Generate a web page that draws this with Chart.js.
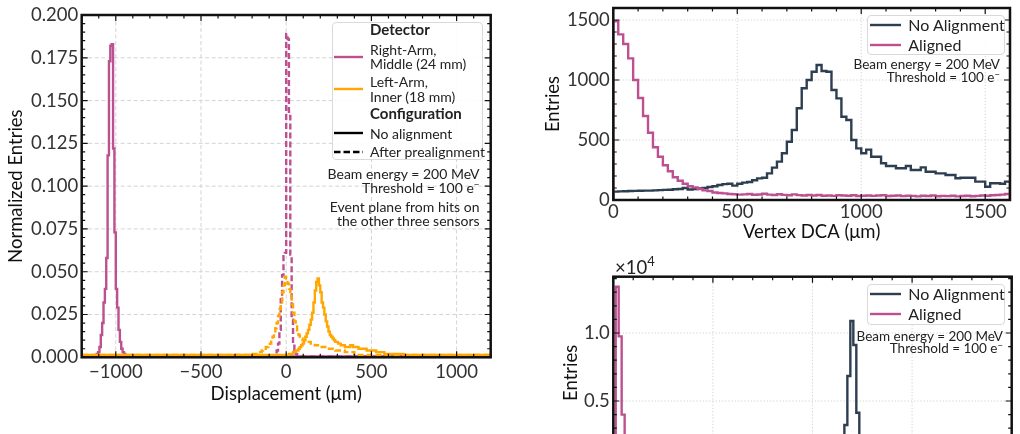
<!DOCTYPE html>
<html>
<head>
<meta charset="utf-8">
<script src="https://cdn.jsdelivr.net/npm/chart.js@4.4.1/dist/chart.umd.min.js"></script>
<style>
  body { margin: 0; width: 1020px; height: 434px; overflow: hidden; position: relative; background: #fff; font-family: Lato, sans-serif; }
  canvas { position: absolute; }
  #overlay { position: absolute; left: 0; top: 0; width: 1020px; height: 434px; z-index: 2; }
  .lbl { position: absolute; white-space: nowrap; color: #222; font-family: Lato, sans-serif; }
  .box { position: absolute; box-sizing: border-box; border: 1px solid #d9d9d9; border-radius: 4px; background: rgba(255,255,255,0.88); }
  .sup { font-size: 0.7em; position: relative; top: -0.45em; }
</style>
</head>
<body>
<canvas id="dispChart" width="510" height="434" style="left:0;top:0"></canvas>
<canvas id="dcaChart" width="500" height="250" style="left:520px;top:0"></canvas>
<canvas id="wideChart" width="500" height="260" style="left:520px;top:250px"></canvas>
<div id="overlay"></div>
<script>
// Colours
const magenta = '#bc5090';
const orange = '#ffa600';
const navy = '#2c3e50';

// ---- Left panel: displacement, normalized entries, 8 um bins ----
const dispBinWidth = 8;
const dispRange = [-1200, 1200];
const dispXTicks = [-1000, -500, 0, 500, 1000];
const dispYTicks = [0, 0.025, 0.05, 0.075, 0.1, 0.125, 0.15, 0.175, 0.2];

// Right-Arm, Middle (24 mm), no alignment
const rightArmRawStart = -1120;
const rightArmRaw = [0.001, 0.002, 0.003, 0.006, 0.013, 0.020, 0.032, 0.040, 0.058, 0.118,
  0.173, 0.182, 0.183, 0.122, 0.073, 0.040, 0.029, 0.016, 0.009, 0.005,
  0.003, 0.002, 0.001];
// Right-Arm, after prealignment
const rightArmPreStart = -72;
const rightArmPre = [0.001, 0.002, 0.004, 0.008, 0.016, 0.034, 0.048, 0.059, 0.061, 0.189,
  0.186, 0.141, 0.060, 0.022, 0.008, 0.004, 0.002, 0.001];
// Left-Arm, Inner (18 mm), no alignment
const leftArmRawStart = 0;
const leftArmRaw = [0.001, 0.001, 0.002, 0.002, 0.002, 0.003, 0.003, 0.004, 0.004, 0.005,
  0.006, 0.007, 0.008, 0.010, 0.012, 0.014, 0.016, 0.019, 0.022, 0.026,
  0.032, 0.039, 0.044, 0.046, 0.042, 0.038, 0.032, 0.029, 0.025, 0.021,
  0.018, 0.015, 0.013, 0.012, 0.011, 0.010, 0.009, 0.009, 0.008, 0.008,
  0.007, 0.007, 0.007, 0.006, 0.006, 0.006, 0.006, 0.007, 0.007, 0.006,
  0.006, 0.006, 0.006, 0.005, 0.005, 0.005, 0.005, 0.005, 0.005, 0.004,
  0.004, 0.004, 0.004, 0.004, 0.004, 0.004, 0.003, 0.003, 0.003, 0.003,
  0.003, 0.003, 0.002, 0.002, 0.002, 0.002, 0.002, 0.002, 0.002, 0.002,
  0.002, 0.002, 0.002, 0.002, 0.002, 0.002];
// Left-Arm, after prealignment
const leftArmPreStart = -208;
const leftArmPre = [0.002, 0.002, 0.002, 0.002, 0.002, 0.003, 0.003, 0.003, 0.004, 0.005,
  0.005, 0.006, 0.006, 0.007, 0.008, 0.010, 0.012, 0.014, 0.017, 0.020,
  0.024, 0.028, 0.032, 0.038, 0.042, 0.047, 0.046, 0.043, 0.040, 0.036,
  0.031, 0.026, 0.021, 0.018, 0.015, 0.013, 0.012, 0.011, 0.010, 0.010,
  0.009, 0.009, 0.009, 0.009, 0.008, 0.008, 0.008, 0.007, 0.007, 0.007,
  0.007, 0.006, 0.006, 0.006, 0.006, 0.006, 0.005, 0.005, 0.005, 0.005,
  0.005, 0.005, 0.004, 0.004, 0.004, 0.004, 0.004, 0.004, 0.004, 0.003,
  0.003, 0.003, 0.003, 0.003, 0.003, 0.003, 0.002, 0.002];
const rightArmFloor = 0.0005;
const leftArmFloor = 0.0014;

// ---- Top right: vertex DCA, 20 um bins ----
const dcaBinWidth = 20;
const dcaRange = [0, 1600];
const dcaXTicks = [0, 500, 1000, 1500];
const dcaYTicks = [0, 500, 1000, 1500];
const dcaNoAlign = [70, 72, 73, 75, 76, 77, 78, 78, 80, 82,
  84, 86, 90, 92, 100, 88, 92, 96, 100, 108,
  115, 125, 132, 135, 120, 135, 145, 150, 165, 180,
  185, 222, 270, 320, 390, 486, 583, 764, 931, 1000,
  1069, 1125, 1075, 1069, 917, 847, 694, 667, 500, 430,
  390, 420, 361, 361, 306, 283, 283, 264, 264, 283,
  250, 250, 272, 236, 236, 222, 222, 208, 208, 181,
  186, 186, 186, 153, 153, 111, 140, 140, 136, 153];
const dcaAligned = [1490, 1380, 1300, 1180, 1000, 850, 700, 560, 440, 360,
  290, 240, 190, 160, 135, 115, 105, 92, 80, 75,
  62, 58, 55, 50, 48, 45, 47, 50, 44, 46,
  52, 45, 42, 48, 43, 40, 47, 41, 38, 42,
  37, 42, 36, 38, 34, 40, 37, 35, 39, 33,
  36, 38, 34, 37, 40, 33, 35, 38, 32, 36,
  34, 30, 35, 33, 37, 31, 34, 32, 36, 30,
  33, 35, 31, 34, 38, 36, 40, 42, 45, 50];

// ---- Bottom right: wide range, 30 unit bins ----
const wideBinWidth = 30;
const wideRange = [0, 4000];
const wideXTicks = [0, 1000, 2000, 3000, 4000];
const wideYTicks = [0, 5000, 10000];
const wideAlignedStart = 24;
const wideAligned = [13400, 9750, 4000, 1600, 700, 300, 150, 80, 40];
const wideNoAlignStart = 2290;
const wideNoAlign = [1500, 3240, 6840, 10880, 9120, 4140, 1400, 500, 200];
const wideFloor = 20;

Chart.defaults.font.family = 'Lato';
Chart.defaults.color = '#222';

// Build step-histogram points from bin left edges
function histPoints(start, width, counts, range, floor) {
  const pts = [{x: range[0], y: floor}];
  counts.forEach((c, i) => pts.push({x: start + i * width, y: c}));
  const end = start + counts.length * width;
  pts.push({x: end, y: floor});
  if (end < range[1]) pts.push({x: range[1], y: floor});
  return pts;
}

function histDataset(label, points, color, dashed) {
  return {
    label: label,
    data: points,
    borderColor: color,
    borderWidth: 2.4,
    borderDash: dashed ? [6, 3] : [],
    stepped: true,
    pointRadius: 0,
    fill: false,
    borderJoinStyle: 'miter'
  };
}

// Grid, inward ticks and the black frame
const axisFrame = {
  id: 'axisFrame',
  beforeDatasetsDraw(chart, args, o) {
    const {ctx, chartArea: a} = chart;
    const xs = chart.scales.x, ys = chart.scales.y;
    ctx.save();
    ctx.strokeStyle = o.gridColor;
    ctx.lineWidth = 0.9;
    ctx.setLineDash(o.gridDash);
    ctx.beginPath();
    o.xMajor.forEach(v => {
      const p = xs.getPixelForValue(v);
      if (p > a.left + 2 && p < a.right - 2) { ctx.moveTo(p, a.top); ctx.lineTo(p, a.bottom); }
    });
    o.yMajor.forEach(v => {
      const p = ys.getPixelForValue(v);
      if (p > a.top + 2 && p < a.bottom - 2) { ctx.moveTo(a.left, p); ctx.lineTo(a.right, p); }
    });
    ctx.stroke();
    ctx.restore();
  },
  afterDatasetsDraw(chart, args, o) {
    const {ctx, chartArea: a} = chart;
    const xs = chart.scales.x, ys = chart.scales.y;
    ctx.save();
    ctx.strokeStyle = '#111';
    ctx.lineWidth = 1.2;
    ctx.beginPath();
    const xRatio = Math.round(o.xMajorStep / o.xMinorStep);
    for (let k = Math.ceil(xs.min / o.xMinorStep); k * o.xMinorStep <= xs.max; k++) {
      const p = xs.getPixelForValue(k * o.xMinorStep);
      const len = (k % xRatio === 0) ? 6 : 3.5;
      ctx.moveTo(p, a.bottom); ctx.lineTo(p, a.bottom - len);
      ctx.moveTo(p, a.top); ctx.lineTo(p, a.top + len);
    }
    const yRatio = Math.round(o.yMajorStep / o.yMinorStep);
    for (let k = Math.ceil(ys.min / o.yMinorStep - 1e-9); k * o.yMinorStep <= ys.max + 1e-9; k++) {
      const p = ys.getPixelForValue(k * o.yMinorStep);
      const len = (k % yRatio === 0) ? 6 : 3.5;
      ctx.moveTo(a.left, p); ctx.lineTo(a.left + len, p);
      ctx.moveTo(a.right, p); ctx.lineTo(a.right - len, p);
    }
    ctx.stroke();
    ctx.lineWidth = 2.5;
    ctx.strokeRect(a.left, a.top, a.right - a.left, a.bottom - a.top);
    ctx.restore();
  }
};

function panelOptions(c) {
  const font = {family: 'Lato', size: 18.5};
  return {
    responsive: false,
    animation: false,
    events: [],
    layout: {padding: c.padding},
    plugins: {legend: {display: false}, tooltip: {enabled: false}, axisFrame: c.frame},
    scales: {
      x: {
        type: 'linear', min: c.xRange[0], max: c.xRange[1],
        grid: {display: false, drawTicks: false}, border: {display: false},
        ticks: {padding: c.xPad, font: font, color: '#333', maxRotation: 0, minRotation: 0, autoSkip: false, callback: c.xFmt},
        afterBuildTicks: s => { s.ticks = c.xTicks.map(v => ({value: v})); },
        afterFit: s => { s.height = c.xHeight; s.paddingLeft = 0; s.paddingRight = 0; },
        title: {display: !!c.xTitle, text: c.xTitle, font: font, color: '#111', padding: {top: 0, bottom: c.xTitlePad}}
      },
      y: {
        type: 'linear', min: c.yRange[0], max: c.yRange[1],
        grid: {display: false, drawTicks: false}, border: {display: false},
        ticks: {padding: 3.5, font: font, color: '#333', callback: c.yFmt},
        afterBuildTicks: s => { s.ticks = c.yTicks.map(v => ({value: v})); },
        afterFit: s => { s.width = c.yWidth; s.paddingTop = 0; s.paddingBottom = 0; },
        title: {display: true, text: c.yTitle, font: font, color: '#111', padding: {top: 4.5, bottom: 0}}
      }
    }
  };
}

const minusFmt = v => v < 0 ? '\u2212' + Math.abs(v) : String(v);

// Left panel
new Chart(document.getElementById('dispChart'), {
  type: 'line',
  data: {
    datasets: [
      histDataset('Left-Arm, after prealignment', histPoints(leftArmPreStart, dispBinWidth, leftArmPre, dispRange, leftArmFloor), orange, true),
      histDataset('Left-Arm, no alignment', histPoints(leftArmRawStart, dispBinWidth, leftArmRaw, dispRange, leftArmFloor), orange, false),
      histDataset('Right-Arm, after prealignment', histPoints(rightArmPreStart, dispBinWidth, rightArmPre, dispRange, rightArmFloor), magenta, true),
      histDataset('Right-Arm, no alignment', histPoints(rightArmRawStart, dispBinWidth, rightArmRaw, dispRange, rightArmFloor), magenta, false)
    ]
  },
  options: panelOptions({
    padding: {left: 0, right: 19.3, top: 15, bottom: 0},
    xRange: dispRange, yRange: [0, 0.2],
    xTicks: dispXTicks, yTicks: dispYTicks,
    xFmt: minusFmt, yFmt: v => v.toFixed(3),
    xPad: 4, xHeight: 76.7, yWidth: 81.7,
    xTitle: 'Displacement (\u03bcm)', xTitlePad: 29.3, yTitle: 'Normalized Entries',
    frame: {xMajor: dispXTicks, yMajor: dispYTicks, xMajorStep: 500, xMinorStep: 100, yMajorStep: 0.025, yMinorStep: 0.005,
      gridColor: '#cfcfcf', gridDash: [4, 2.5]}
  }),
  plugins: [axisFrame]
});

// Top right panel
new Chart(document.getElementById('dcaChart'), {
  type: 'line',
  data: {
    datasets: [
      histDataset('Aligned', histPoints(0, dcaBinWidth, dcaAligned, dcaRange, 0), magenta, false),
      histDataset('No Alignment', histPoints(0, dcaBinWidth, dcaNoAlign, dcaRange, 0), navy, false)
    ]
  },
  options: panelOptions({
    padding: {left: 17.5, right: 10, top: 8, bottom: 0},
    xRange: dcaRange, yRange: [0, 1600],
    xTicks: dcaXTicks, yTicks: dcaYTicks,
    xFmt: v => String(v), yFmt: v => String(v),
    xPad: 1.3, xHeight: 50, yWidth: 75.8,
    xTitle: 'Vertex DCA (\u03bcm)', xTitlePad: 7.3, yTitle: 'Entries',
    frame: {xMajor: dcaXTicks, yMajor: dcaYTicks, xMajorStep: 500, xMinorStep: 100, yMajorStep: 500, yMinorStep: 100,
      gridColor: '#cccccc', gridDash: [1.2, 2]}
  }),
  plugins: [axisFrame]
});

// Bottom right panel (lower part lies outside the window)
new Chart(document.getElementById('wideChart'), {
  type: 'line',
  data: {
    datasets: [
      histDataset('Aligned', histPoints(wideAlignedStart, wideBinWidth, wideAligned, wideRange, wideFloor), magenta, false),
      histDataset('No Alignment', histPoints(wideNoAlignStart, wideBinWidth, wideNoAlign, wideRange, wideFloor), navy, false)
    ]
  },
  options: panelOptions({
    padding: {left: 35.9, right: 8.3, top: 26.7, bottom: 0},
    xRange: wideRange, yRange: [0, 14140],
    xTicks: wideXTicks, yTicks: wideYTicks,
    xFmt: v => String(v), yFmt: v => (v / 1e4).toFixed(1),
    xPad: 1.3, xHeight: 41, yWidth: 57.4,
    xTitle: '', xTitlePad: 0, yTitle: 'Entries',
    frame: {xMajor: wideXTicks, yMajor: wideYTicks, xMajorStep: 1000, xMinorStep: 200, yMajorStep: 5000, yMinorStep: 1000,
      gridColor: '#cccccc', gridDash: [1.2, 2]}
  }),
  plugins: [axisFrame]
});

// Legends and annotations as HTML text
const overlay = document.getElementById('overlay');

function addLabel(html, x, yc, size, opts) {
  opts = opts || {};
  const el = document.createElement('div');
  el.className = 'lbl';
  el.innerHTML = html;
  const lh = size + 2;
  el.style.fontSize = size + 'px';
  el.style.lineHeight = lh + 'px';
  el.style.top = (yc - lh / 2) + 'px';
  if (opts.right) el.style.right = (1020 - x) + 'px'; else el.style.left = x + 'px';
  if (opts.bold) el.style.fontWeight = 'bold';
  overlay.appendChild(el);
}

function addSwatch(x, y, w, color, dashed) {
  const ns = 'http://www.w3.org/2000/svg';
  const svg = document.createElementNS(ns, 'svg');
  svg.setAttribute('width', w);
  svg.setAttribute('height', 6);
  svg.style.cssText = `position:absolute;left:${x}px;top:${y - 3}px;`;
  const ln = document.createElementNS(ns, 'line');
  ln.setAttribute('x1', 0); ln.setAttribute('x2', w);
  ln.setAttribute('y1', 3); ln.setAttribute('y2', 3);
  ln.setAttribute('stroke', color);
  ln.setAttribute('stroke-width', 2.4);
  if (dashed) ln.setAttribute('stroke-dasharray', '6.5,3');
  svg.appendChild(ln);
  overlay.appendChild(svg);
}

function addBox(x, y, w, h) {
  const el = document.createElement('div');
  el.className = 'box';
  el.style.cssText = `left:${x}px;top:${y}px;width:${w}px;height:${h}px;`;
  overlay.appendChild(el);
}

const thresholdText = 'Threshold = 100 e<span class="sup">\u2212</span>';

// Left legend
addBox(332, 22, 151, 138);
addLabel('Detector', 370, 29.5, 15, {bold: true});
addSwatch(334, 56.7, 29, magenta, false);
addLabel('Right-Arm,', 370, 49.5, 14);
addLabel('Middle (24 mm)', 370, 64, 14);
addSwatch(334, 89, 29, orange, false);
addLabel('Left-Arm,', 370, 81.5, 14);
addLabel('Inner (18 mm)', 370, 96.5, 14);
addLabel('Configuration', 370, 113.5, 15, {bold: true});
addSwatch(334, 132.7, 29, '#000', false);
addLabel('No alignment', 370, 133.5, 14);
addSwatch(334, 151.7, 29, '#000', true);
addLabel('After prealignment', 370, 152, 14);
addLabel('Beam energy = 200 MeV', 479.5, 173.5, 14, {right: true});
addLabel(thresholdText, 479.5, 187.5, 14, {right: true});
addLabel('Event plane from hits on', 479.5, 207, 14, {right: true});
addLabel('the other three sensors', 479.5, 221, 14, {right: true});

// Top right legend
addBox(866.7, 15, 138.3, 40);
addSwatch(870, 25, 31, navy, false);
addLabel('No Alignment', 908.3, 25, 16);
addSwatch(870, 45, 31, magenta, false);
addLabel('Aligned', 908.3, 45, 16);
addLabel('Beam energy = 200 MeV', 1000, 65, 13.5, {right: true});
addLabel(thresholdText, 1000, 77.5, 13.5, {right: true});

// Bottom right legend
addBox(866.7, 284.3, 138.3, 41);
addSwatch(870, 294.3, 31, navy, false);
addLabel('No Alignment', 908.3, 294.3, 16);
addSwatch(870, 314.3, 31, magenta, false);
addLabel('Aligned', 908.3, 314.3, 16);
addLabel('Beam energy = 200 MeV', 1003, 336.7, 13.5, {right: true});
addLabel(thresholdText, 1003, 349, 13.5, {right: true});

// Offset text of the bottom panel
addLabel('\u00d710<span style="font-size:13px;position:relative;top:-8px">4</span>', 615, 267, 18.5);
</script>
</body>
</html>
